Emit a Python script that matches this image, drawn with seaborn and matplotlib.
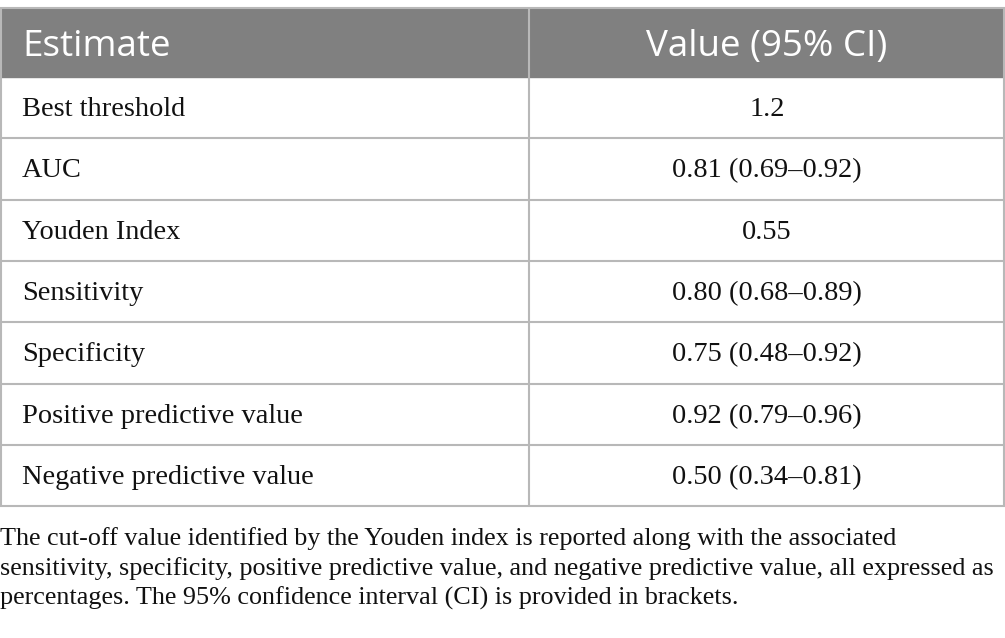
import matplotlib.pyplot as plt
import seaborn as sns

# table contents
header = ['Estimate', 'Value (95% CI)']
estimates = ['Best threshold', 'AUC', 'Youden Index', 'Sensitivity', 'Specificity',
             'Positive predictive value', 'Negative predictive value']
values = ['1.2', '0.81 (0.69\u20130.92)', '0.55', '0.80 (0.68\u20130.89)', '0.75 (0.48\u20130.92)',
          '0.92 (0.79\u20130.96)', '0.50 (0.34\u20130.81)']
footnote = ['The cut-off value identified by the Youden index is reported along with the associated',
            'sensitivity, specificity, positive predictive value, and negative predictive value, all expressed as',
            'percentages. The 95% confidence interval (CI) is provided in brackets.']

sns.set_theme(style='white')

W, H = 1005, 638
fig = plt.figure(figsize=(W / 100, H / 100), dpi=100)
ax = fig.add_axes([0, 0, 1, 1])
ax.set_xlim(0, W)
ax.set_ylim(H, 0)
ax.axis('off')

top = 8
head_h = 69
row_h = 61.3
col_split = 529
line_col = '#b8b8b8'

# header band
ax.add_patch(plt.Rectangle((0, top), W, head_h, color='#808080', zorder=1))
ax.text(22, top + head_h / 2 + 5, header[0], color='white', fontsize=26.5,
        family='Open Sans', va='center', ha='left')
ax.text((col_split + W) / 2, top + head_h / 2 + 5, header[1], color='white', fontsize=26.5,
        family='Open Sans', va='center', ha='center')

# rows
y0 = top + head_h
for i, (est, val) in enumerate(zip(estimates, values)):
    yc = y0 + row_h * (i + 0.5)
    ax.text(22, yc + 2, est, fontsize=20.4, family='Liberation Serif', va='center', ha='left', color='#111111')
    ax.text((col_split + W) / 2, yc + 2, val, fontsize=20.4, family='Liberation Serif',
            va='center', ha='center', color='#111111')
    ax.hlines(y0 + row_h * (i + 1), 0, W, color=line_col, lw=1.5, zorder=2)

bottom = y0 + row_h * len(estimates)
ax.hlines(top, 0, W, color=line_col, lw=1.5, zorder=2)
ax.vlines([1, col_split, W - 1], top, bottom, color=line_col, lw=1.5, zorder=2)

# footnote
for j, line in enumerate(footnote):
    ax.text(0, bottom + 32 + 30 * j, line, fontsize=18.8, family='Liberation Serif',
            va='center', ha='left', color='#111111')

fig.savefig('out.png', dpi=100)
